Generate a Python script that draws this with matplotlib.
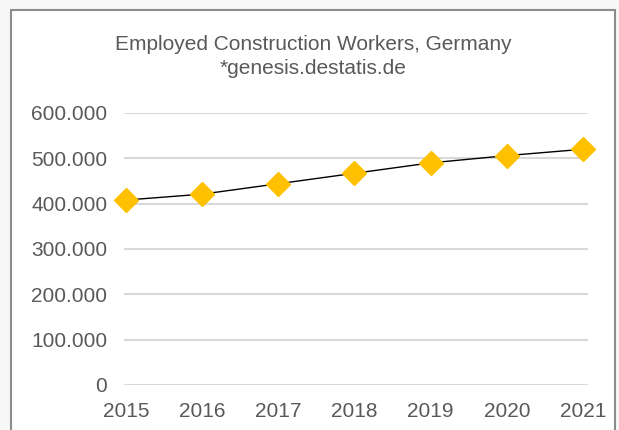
import matplotlib
matplotlib.use("Agg")
import matplotlib.pyplot as plt
from matplotlib.patches import Rectangle
from matplotlib.ticker import FuncFormatter

years = ["2015", "2016", "2017", "2018", "2019", "2020", "2021"]
workers = [408000, 421000, 444000, 467000, 490000, 506000, 520000]
title_line1 = "Employed Construction Workers, Germany"
title_line2 = "*genesis.destatis.de"

plt.rcParams['font.family'] = ['Liberation Sans', 'DejaVu Sans']
W, H = 619, 430
fig = plt.figure(figsize=(W / 100, H / 100), dpi=100)
fig.patch.set_facecolor("#f7f7f7")

# chart area frame
fig.patches.append(Rectangle((11 / W, -0.05), (615 - 11) / W, 1.05 - 10 / H,
                             transform=fig.transFigure, facecolor="white",
                             edgecolor="#8c8c8c", linewidth=1.5, zorder=-5))

ax = fig.add_axes([124 / W, 1 - 385 / H, (588 - 124) / W, (385 - 113) / H])
ax.set_facecolor("none")
x = list(range(len(years)))
ax.plot(x, workers, color="black", linewidth=1, marker="D", markersize=12,
        markerfacecolor="#FFC000", markeredgecolor="#FFC000", zorder=3, clip_on=False)

ax.set_ylim(0, 600000)
ax.set_yticks(range(0, 600001, 100000))
ax.yaxis.set_major_formatter(FuncFormatter(lambda v, p: f"{int(v):,}".replace(",", ".")))
ax.set_xlim(-0.026, 6.066)
ax.set_xticks(x)
ax.set_xticklabels(years)
ax.grid(axis="y", color="#d9d9d9", linewidth=1.5)
ax.grid(axis="x", visible=False)
for s in ax.spines.values():
    s.set_visible(False)
ax.tick_params(axis="both", length=0, labelsize=15, labelcolor="#595959")
ax.tick_params(axis="y", pad=12)
ax.tick_params(axis="x", pad=12)

fig.text(313 / W, 1 - 44 / H, title_line1, ha="center", va="center", fontsize=15, color="#595959")
fig.text(313 / W, 1 - 68 / H, title_line2, ha="center", va="center", fontsize=15, color="#595959")

fig.savefig("out.png", dpi=100, facecolor=fig.get_facecolor())
